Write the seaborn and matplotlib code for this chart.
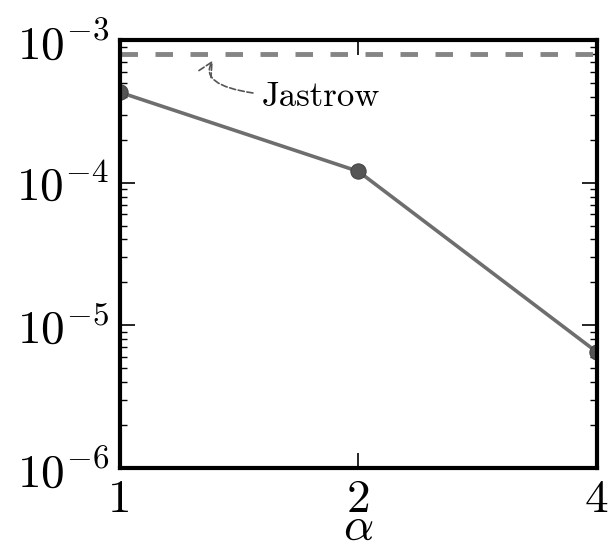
import numpy as np
import pandas as pd
import matplotlib
matplotlib.use('Agg')
import matplotlib.pyplot as plt
import seaborn as sns

# ========== 数据 ==========
alpha = [1, 2, 4]
error = [4.3e-4, 1.2e-4, 6.5e-6]
jastrow = 8.0e-4

sns.set_style('ticks')
plt.rcParams['font.family'] = ['cmr10', 'DejaVu Serif']
plt.rcParams['mathtext.fontset'] = 'cm'
plt.rcParams['axes.formatter.use_mathtext'] = True
plt.rcParams['xtick.color'] = 'black'
plt.rcParams['ytick.color'] = 'black'
plt.rcParams['text.color'] = 'black'
plt.rcParams['axes.labelcolor'] = 'black'

df = pd.DataFrame({'alpha': alpha, 'error': error})

fig = plt.figure(figsize=(6.09, 5.41), dpi=100)
ax = fig.add_axes([0.197, 0.135, 0.783, 0.791])

sns.lineplot(data=df, x='alpha', y='error', ax=ax, color='#6e6e6e', lw=2.6,
             marker='o', markersize=11, markerfacecolor='#555555',
             markeredgecolor='#444444')
ax.axhline(jastrow, color='#858585', lw=3.5, ls=(0, (3.6, 3.6)))

ax.set_xscale('log', base=2)
ax.set_yscale('log')
ax.set_xlim(1, 4)
ax.set_ylim(1e-6, 1e-3)
ax.set_xticks(alpha)
ax.set_xticklabels([str(a) for a in alpha])
ax.xaxis.set_minor_locator(matplotlib.ticker.NullLocator())
ax.set_yticks([1e-6, 1e-5, 1e-4, 1e-3])

ax.tick_params(axis='both', which='major', direction='in', length=11, width=1.2,
               labelsize=34, top=True, right=True, pad=8)
ax.tick_params(axis='y', which='minor', direction='in', length=5, width=1.0,
               left=True, right=True)
for s in ax.spines.values():
    s.set_linewidth(3)
    s.set_color('black')

ax.set_xlabel(r'$\alpha$', fontsize=34, labelpad=-10)
ax.set_ylabel('')

ax.annotate('Jastrow', xy=(1.31, 7.2e-4), xytext=(1.51, 4.0e-4),
            fontsize=25, va='center', ha='left',
            arrowprops=dict(arrowstyle='->', color='#555555', lw=1.2, ls='--',
                            connectionstyle='angle3,angleA=0,angleB=60',
                            shrinkA=4, shrinkB=0))

fig.savefig('out.png', dpi=100)
